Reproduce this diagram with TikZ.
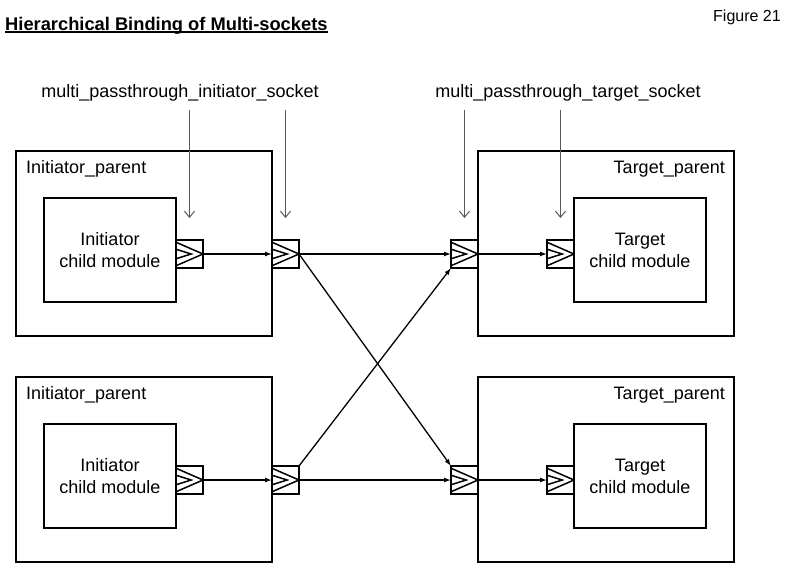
\documentclass[tikz,border=0pt]{standalone}
\usepackage{fontspec}
\setmainfont{Liberation Sans}
\usetikzlibrary{positioning,calc,arrows.meta}

\newcommand{\ruledtitle}[1]{\setbox0=\hbox{#1}\rlap{\rule[-3.2pt]{\wd0}{1.9pt}}\box0}

\tikzset{
	parent/.style={draw, line width=2.4pt, outer sep=0pt, minimum width=256pt, minimum height=185pt},
	child/.style={draw, line width=2.4pt, outer sep=0pt, minimum width=132pt, minimum height=104pt,
		align=center, font=\fontsize{18}{22}\selectfont},
	socket/.style={draw, line width=1.8pt, outer sep=0pt, inner sep=0pt, minimum width=27pt, minimum height=28pt,
		path picture={
			\draw[line width=1.5pt]
				($(path picture bounding box.north west)!0.08!(path picture bounding box.south west)$)
				-- (path picture bounding box.east)
				-- ($(path picture bounding box.north west)!0.92!(path picture bounding box.south west)$);
			\draw[line width=1.5pt]
				($(path picture bounding box.north west)!0.33!(path picture bounding box.south west)$)
				-- ($(path picture bounding box.west)!0.56!(path picture bounding box.east)$)
				-- ($(path picture bounding box.north west)!0.67!(path picture bounding box.south west)$);
		}},
	bind/.style={line width=1.3pt, -{Latex[length=7pt,width=5pt]}},
	pointer/.style={draw=black!65, line width=1pt, -{Straight Barb[length=6pt,width=10pt]}},
	lbl/.style={inner sep=0pt, font=\fontsize{18}{22}\selectfont},
}

\begin{document}
\begin{tikzpicture}[x=1pt, y=-1pt]
	\useasboundingbox (0,0) rectangle (788,574);
	
	\node[anchor=base west, inner sep=0pt, font=\fontsize{18.3}{21}\selectfont\bfseries] (title) at (5,30)
		{\ruledtitle{Hierarchical Binding of Multi-sockets}};
	\node[anchor=base east, inner sep=0pt, font=\fontsize{16}{18}\selectfont] (fig) at (781,21) {Figure 21};
	
	\node[lbl, inner ysep=9pt, anchor=base] (ilabel) at (180,97) {multi\_passthrough\_initiator\_socket};
	\node[lbl, inner ysep=9pt, anchor=base] (tlabel) at (568,97) {multi\_passthrough\_target\_socket};
	
	\foreach \r/\y in {1/243.5, 2/469.5} {
		\node[parent] (ip\r) at (144,\y) {};
		\node[parent] (tp\r) at (606,\y) {};
		
		\node[lbl, anchor=base west] (ipl\r) at ([xshift=10pt, yshift=-22pt]ip\r.north west) {Initiator\_parent};
		\node[lbl, anchor=base east] (tpl\r) at ([xshift=-9pt, yshift=-22pt]tp\r.north east) {Target\_parent};
		
		\node[child] (ic\r) at ([xshift=-34pt, yshift=-6.5pt]ip\r.center) {Initiator\\child module};
		\node[child] (tc\r) at ([xshift=34pt, yshift=-6.5pt]tp\r.center) {Target\\child module};
		
		\node[socket, right=0pt of ic\r, yshift=-4pt] (is\r) {};
		\node[socket, anchor=west] (os\r) at (ip\r.east |- is\r) {};
		\node[socket, anchor=east] (ot\r) at (tp\r.west |- is\r) {};
		\node[socket, left=0pt of tc\r, yshift=-4pt] (ts\r) {};
		
		\draw[bind] (is\r.east) -- (os\r.west);
		\draw[bind] (os\r.east) -- (ot\r.west);
		\draw[bind] (ot\r.east) -- (ts\r.west);
	}
	
	% crossed bindings
	\draw[bind] (os1.east) -- (ot2.north west);
	\draw[bind] (os2.north east) -- (ot1.south west);
	
	% socket pointers
	\foreach \s in {is1, os1}
		\draw[pointer] (ilabel.south -| \s.north) -- ([yshift=22pt]\s.north);
	\foreach \s in {ot1, ts1}
		\draw[pointer] (tlabel.south -| \s.north) -- ([yshift=22pt]\s.north);
\end{tikzpicture}
\end{document}
